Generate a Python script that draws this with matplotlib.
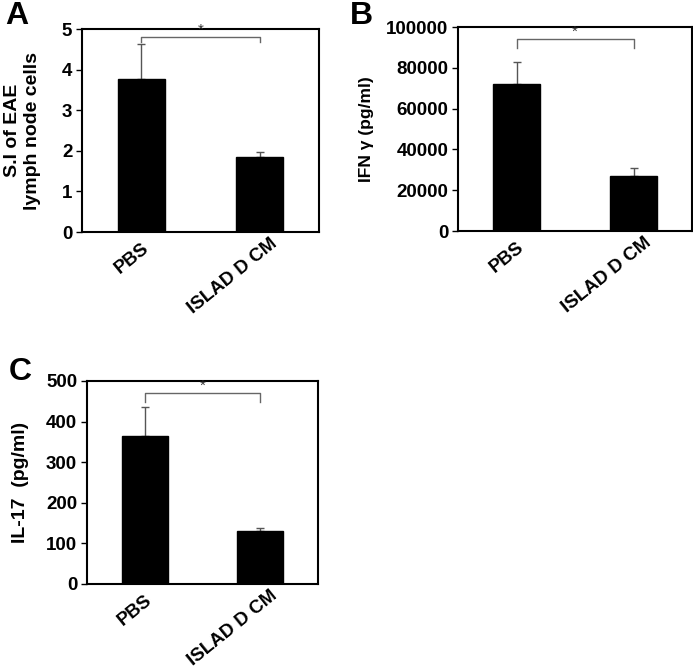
import matplotlib
matplotlib.use('Agg')
import matplotlib.pyplot as plt
import matplotlib.transforms as mtransforms

groups = ['PBS', 'ISLAD D CM']

si_mean = [3.78, 1.85]
si_err = [0.85, 0.13]

ifn_mean = [72000, 27100]
ifn_err = [10800, 3900]

il17_mean = [364, 131]
il17_err = [73, 8]

plt.rcParams['font.family'] = ['Liberation Sans', 'DejaVu Sans']
plt.rcParams['font.weight'] = 'bold'

fig = plt.figure(figsize=(6.93, 6.71), dpi=100)

# pixel nudges for the slanted group labels (x, y)
label_nudge = [(0, -8), (10, -3)]

def panel(rect, means, errs, ymax, yticks, ylabel, ylsize, ylpad, letter, letter_pos, bracket_y, bracket_drop):
    ax = fig.add_axes(rect)
    x = [0, 1]
    ax.bar(x, means, width=0.4, color='black', edgecolor='black', zorder=2)
    ax.errorbar(x, means, yerr=[[0, 0], errs], fmt='none', ecolor='#555555',
                elinewidth=1, capsize=3, capthick=1, zorder=1)
    ax.set_xlim(-0.5, 1.5)
    ax.set_ylim(0, ymax)
    ax.set_yticks(yticks)
    ax.set_yticklabels([str(t) for t in yticks], fontsize=13.5, fontweight='bold')
    ax.set_xticks(x)
    ax.set_xticklabels([])
    ax.tick_params(axis='x', length=0)
    for xi, g, (dx, dy) in zip(x, groups, label_nudge):
        off = mtransforms.ScaledTranslation(dx / 100, dy / 100, fig.dpi_scale_trans)
        ax.text(xi, 0, g, transform=ax.get_xaxis_transform() + off,
                rotation=39, ha='right', va='top', rotation_mode='anchor',
                fontsize=13.5, fontweight='bold')
    ax.tick_params(axis='y', length=4, width=1, direction='out', pad=3)
    for s in ax.spines.values():
        s.set_linewidth(1.5)
    ax.set_ylabel(ylabel, fontsize=ylsize, fontweight='bold', labelpad=ylpad)
    # significance bracket
    ax.plot([0, 0, 1, 1], [bracket_drop, bracket_y, bracket_y, bracket_drop],
            color='#666666', lw=1)
    ax.text(0.5, bracket_y, '*', ha='center', va='bottom', fontsize=11,
            fontweight='normal', color='#333333')
    fig.text(letter_pos[0], letter_pos[1], letter, fontsize=23, fontweight='bold',
             ha='left', va='top')
    return ax

panel([0.1183, 0.6542, 0.342, 0.3025], si_mean, si_err, 5, [0, 1, 2, 3, 4, 5],
      'S.I of EAE\nlymph node cells', 14, 15, 'A', (0.008, 0.999), 4.8, 4.68)
panel([0.6609, 0.6557, 0.3377, 0.304], ifn_mean, ifn_err, 100000,
      [0, 20000, 40000, 60000, 80000, 100000],
      'IFN γ (pg/ml)', 12.5, 9, 'B', (0.505, 0.999), 94100, 89900)
panel([0.1255, 0.1297, 0.333, 0.3025], il17_mean, il17_err, 500,
      [0, 100, 200, 300, 400, 500],
      'IL-17  (pg/ml)', 14, 12, 'C', (0.012, 0.468), 470, 449)

fig.savefig('out.png', dpi=100)
